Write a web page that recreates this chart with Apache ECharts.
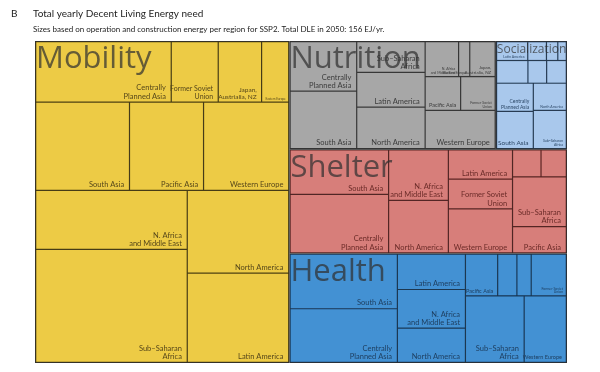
<!DOCTYPE html>
<html>
<head>
<meta charset="utf-8">
<script src="https://cdn.jsdelivr.net/npm/echarts@6/dist/echarts.min.js"></script>
<style>html,body{margin:0;padding:0;background:#fff}#c{width:600px;height:372px}</style>
</head>
<body>
<div id="c"></div>
<script>
// ---- data (EJ/yr in 2050, SSP2) ----
const categories = ['Mobility', 'Nutrition', 'Socialization', 'Shelter', 'Health'];
const regions = ['Sub–Saharan Africa', 'Latin America', 'N. Africa and Middle East', 'North America',
  'South Asia', 'Centrally Planned Asia', 'Western Europe', 'Pacific Asia',
  'Former Soviet Union', 'Japan, Austrialia, NZ', 'Eastern Europe'];
const mobility      = [15.7, 8.3, 8.2, 7.7, 7.6, 7.5, 6.9, 6.0, 2.6, 2.4, 1.5];
const nutrition     = [1.95, 2.20, 1.08, 2.62, 3.54, 3.05, 2.48, 1.11, 1.08, 0.82, 0.36];
const socialization = [1.18, 0.55, 0.42, 0.84, 1.28, 0.97, 0.67, 0.40, 0.33, 0.20, 0.15];
const shelter       = [2.48, 1.73, 2.79, 2.90, 4.06, 5.32, 2.61, 1.30, 1.77, 0.71, 0.63];
const health        = [3.61, 2.22, 2.43, 2.15, 5.41, 5.31, 2.59, 1.24, 1.35, 0.74, 0.55];
const titleText = 'Total yearly Decent Living Energy need';
const subtitleText = 'Sizes based on operation and construction energy per region for SSP2. Total DLE in 2050: 156 EJ/yr.';

// ---- presentation ----
const values = {Mobility: mobility, Nutrition: nutrition, Socialization: socialization, Shelter: shelter, Health: health};
// order in which the regions are handed to the squarify layout (indices into regions)
const drawOrder = {
  Mobility:      [5, 8, 9, 10, 4, 7, 6, 2, 0, 3, 1],
  Nutrition:     [5, 4, 0, 1, 3, 2, 10, 9, 7, 8, 6],
  Socialization: [1, 8, 9, 10, 6, 7, 2, 5, 4, 3, 0],
  Shelter:       [4, 5, 2, 3, 1, 8, 6, 9, 10, 0, 7],
  Health:        [4, 5, 1, 2, 3, 7, 9, 10, 8, 0, 6]
};
const fill = {Mobility: '#EDCB45', Nutrition: '#A7A7A7', Socialization: '#A9C8EC', Shelter: '#D77E7A', Health: '#4391D3'};
const line = {Mobility: '#4d4012', Nutrition: '#3a3a3a', Socialization: '#26405e', Shelter: '#5c2523', Health: '#173a5c'};
const ink  = {Mobility: '#56471a', Nutrition: '#3c3c3c', Socialization: '#2c4766', Shelter: '#6b2b28', Health: '#1d3d5e'};
const bigSize = {Mobility: 31, Nutrition: 31, Socialization: 12, Shelter: 31, Health: 31};
const smallSize = {
  Mobility: {'Eastern Europe': 3, 'Former Soviet Union': 7, 'Japan, Austrialia, NZ': 6.5},
  Nutrition: {'N. Africa and Middle East': 3.5, 'Former Soviet Union': 3.5, 'Eastern Europe': 3.5,
              'Japan, Austrialia, NZ': 4.5, 'Pacific Asia': 5.5},
  Socialization: {'Latin America': 3.5, 'Centrally Planned Asia': 5, 'North America': 3.5,
                  'South Asia': 6.5, 'Sub–Saharan Africa': 3.5},
  Shelter: {'Japan, Austrialia, NZ': 0, 'Eastern Europe': 0},
  Health: {'Japan, Austrialia, NZ': 0, 'Eastern Europe': 0, 'Former Soviet Union': 3.5,
           'Pacific Asia': 5.5, 'Western Europe': 5.5}
};
const labelText = {
  'Sub–Saharan Africa': 'Sub–Saharan\nAfrica',
  'N. Africa and Middle East': 'N. Africa\nand Middle East',
  'Centrally Planned Asia': 'Centrally\nPlanned Asia',
  'Former Soviet Union': 'Former Soviet\nUnion',
  'Japan, Austrialia, NZ': 'Japan,\nAustrialia, NZ'
};
const FONT_SMALL = "Lato, 'Open Sans', sans-serif";
const FONT_BIG = "'Open Sans', sans-serif";
const BASE = 7.5;

function sizeFor(cat, name) {
  const m = smallSize[cat];
  if (m && Object.prototype.hasOwnProperty.call(m, name)) return m[name];
  return cat === 'Socialization' ? 0 : BASE;
}

const tree = categories.map(cat => ({
  name: cat,
  itemStyle: {color: fill[cat], borderColor: '#2e2e2e'},
  children: drawOrder[cat].map(i => {
    const name = regions[i];
    const fs = sizeFor(cat, name);
    return {
      name: name,
      value: values[cat][i],
      itemStyle: {color: fill[cat], borderColor: line[cat]},
      label: fs ? {show: true, fontSize: fs, lineHeight: fs * 1.1, color: ink[cat],
                   padding: [0, Math.max(1, fs * 0.5), 0, 0]} : {show: false}
    };
  })
}));

const totals = categories.map(cat => ({
  name: cat,
  value: values[cat].reduce((a, b) => a + b, 0),
  label: {fontSize: bigSize[cat], lineHeight: bigSize[cat]}
}));

const box = {left: 35, top: 41, width: 532, height: 322};
const RATIO = 1.42;

const chart = echarts.init(document.getElementById('c'), null, {renderer: 'canvas'});
chart.setOption({
  backgroundColor: '#ffffff',
  animation: false,
  title: [
    {text: 'B', left: 11, top: 9, padding: 0,
     textStyle: {fontSize: 10, fontWeight: 'normal', color: '#222', fontFamily: FONT_SMALL}},
    {text: titleText, subtext: subtitleText, left: 33, top: 9, padding: 0, itemGap: 6,
     textStyle: {fontSize: 10, fontWeight: 'normal', color: '#222', fontFamily: FONT_SMALL},
     subtextStyle: {fontSize: 8, color: '#222', fontFamily: FONT_SMALL}}
  ],
  series: [
    Object.assign({
      type: 'treemap', z: 2, silent: true, roam: false, nodeClick: false,
      sort: false, squareRatio: RATIO, breadcrumb: {show: false},
      visibleMin: 0, childrenVisibleMin: 0,
      itemStyle: {borderWidth: 0, gapWidth: 0, borderColor: '#ffffff'},
      levels: [
        {itemStyle: {borderWidth: 0, gapWidth: 0}},
        {itemStyle: {borderWidth: 0.7, gapWidth: 0}},
        {itemStyle: {borderWidth: 0.6, gapWidth: 0}}
      ],
      label: {show: true, position: 'insideBottomRight', distance: 1, align: 'right',
              fontSize: BASE, fontFamily: FONT_SMALL, overflow: 'none',
              formatter: p => labelText[p.name] || p.name},
      data: tree
    }, box),
    Object.assign({
      type: 'treemap', z: 4, silent: true, roam: false, nodeClick: false,
      sort: false, squareRatio: RATIO, breadcrumb: {show: false},
      visibleMin: 0,
      itemStyle: {color: 'rgba(0,0,0,0)', borderColor: 'rgba(0,0,0,0)', borderWidth: 0, gapWidth: 0},
      levels: [
        {itemStyle: {borderWidth: 0, gapWidth: 0, borderColor: 'rgba(0,0,0,0)'}},
        {itemStyle: {borderWidth: 0, gapWidth: 0, color: 'rgba(0,0,0,0)', borderColor: 'rgba(0,0,0,0)'}}
      ],
      label: {show: true, position: [1, 3], padding: 0, distance: 0,
              fontFamily: FONT_BIG, color: 'rgba(48,48,48,0.72)', overflow: 'none'},
      data: totals
    }, box)
  ]
});
</script>
</body>
</html>
